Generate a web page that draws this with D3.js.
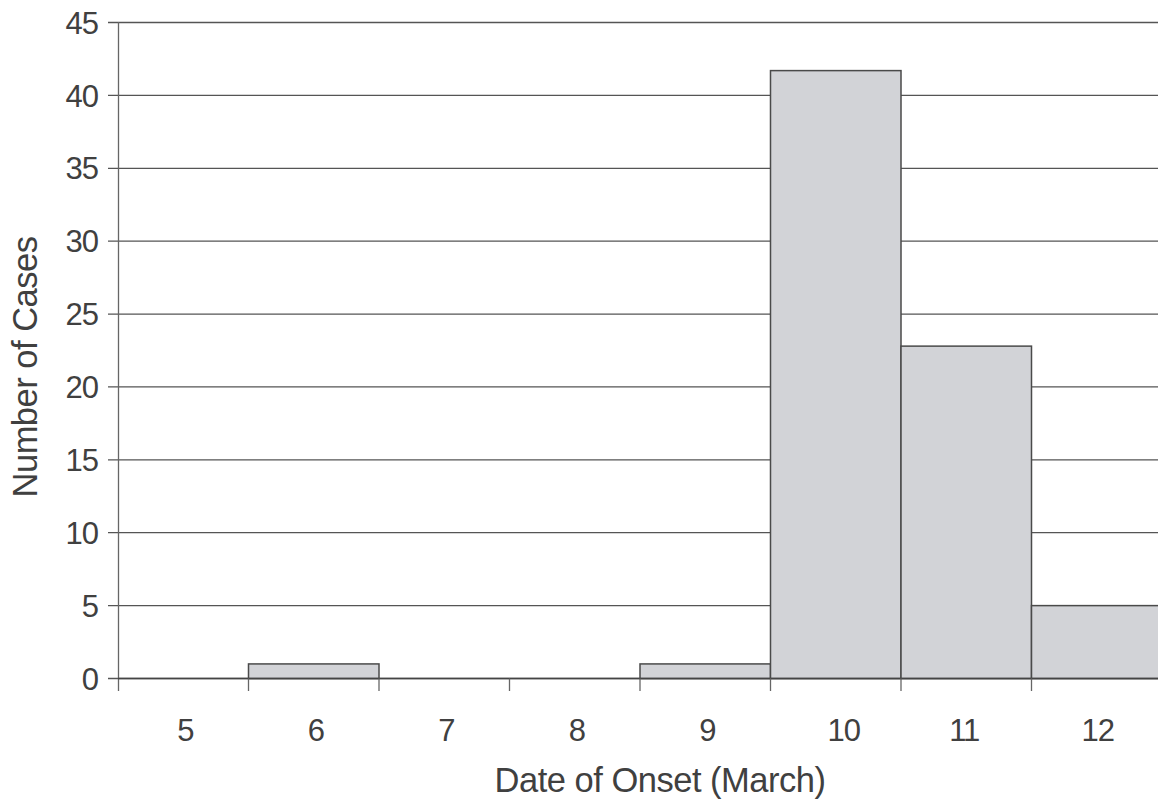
<!DOCTYPE html>
<html><head><meta charset="utf-8">
<script src="https://cdn.jsdelivr.net/npm/d3@7"></script>
<style>body{margin:0;background:#fff}svg{display:block}</style>
</head><body><svg id="c" width="1158" height="800"></svg>
<script>
const days = ["5","6","7","8","9","10","11","12"];
const cases = [0, 1, 0, 0, 1, 41.7, 22.8, 5];
const yTicks = [0,5,10,15,20,25,30,35,40,45];

const svg = d3.select("#c");
const font = "'Liberation Sans', Arial, sans-serif";
const x = d3.scaleBand().domain(days).range([118, 1162]).padding(0);
const y = d3.scaleLinear().domain([0,45]).range([678.5, 22.5]);
const nudge = {"10":8, "11":-2, "12":1};

svg.append("g").selectAll("line").data(yTicks).join("line")
  .attr("x1",108).attr("x2",1158).attr("y1",d=>y(d)).attr("y2",d=>y(d))
  .attr("stroke","#555").attr("stroke-width",1.3);

svg.append("g").selectAll("rect").data(days.map((d,i)=>({d,v:cases[i]})).filter(o=>o.v>0)).join("rect")
  .attr("x",o=>x(o.d)).attr("width",x.bandwidth())
  .attr("y",o=>y(o.v)).attr("height",o=>y(0)-y(o.v))
  .attr("fill","#d2d3d7").attr("stroke","#4a4a4a").attr("stroke-width",1.5);

svg.append("line").attr("x1",118.5).attr("x2",118.5).attr("y1",22).attr("y2",691)
  .attr("stroke","#666").attr("stroke-width",1.3);
svg.append("line").attr("x1",118).attr("x2",1158).attr("y1",y(0)).attr("y2",y(0))
  .attr("stroke","#444").attr("stroke-width",1.5);
svg.append("g").selectAll("line").data(days.slice(1)).join("line")
  .attr("x1",d=>x(d)).attr("x2",d=>x(d)).attr("y1",y(0)).attr("y2",691)
  .attr("stroke","#666").attr("stroke-width",1.3);

svg.append("g").selectAll("text").data(yTicks).join("text")
  .attr("x",98).attr("y",d=>y(d)).attr("dy","0.36em").attr("text-anchor","end")
  .attr("font-family",font).attr("font-size",31).attr("letter-spacing",-1).attr("fill","#404040").text(d=>d);
svg.append("g").selectAll("text").data(days).join("text")
  .attr("x",d=>x(d)+x.bandwidth()/2+(nudge[d]!==undefined?nudge[d]:2)).attr("y",741).attr("text-anchor","middle")
  .attr("font-family",font).attr("font-size",31).attr("letter-spacing",-1).attr("fill","#404040").text(d=>d);

svg.append("text").attr("x",660).attr("y",792).attr("text-anchor","middle")
  .attr("font-family",font).attr("font-size",34.5).attr("letter-spacing",-0.5).attr("fill","#404040").text("Date of Onset (March)");
svg.append("text").attr("transform","translate(37,367) rotate(-90)").attr("text-anchor","middle")
  .attr("font-family",font).attr("font-size",34.5).attr("letter-spacing",-0.5).attr("fill","#404040").text("Number of Cases");
</script></body></html>
